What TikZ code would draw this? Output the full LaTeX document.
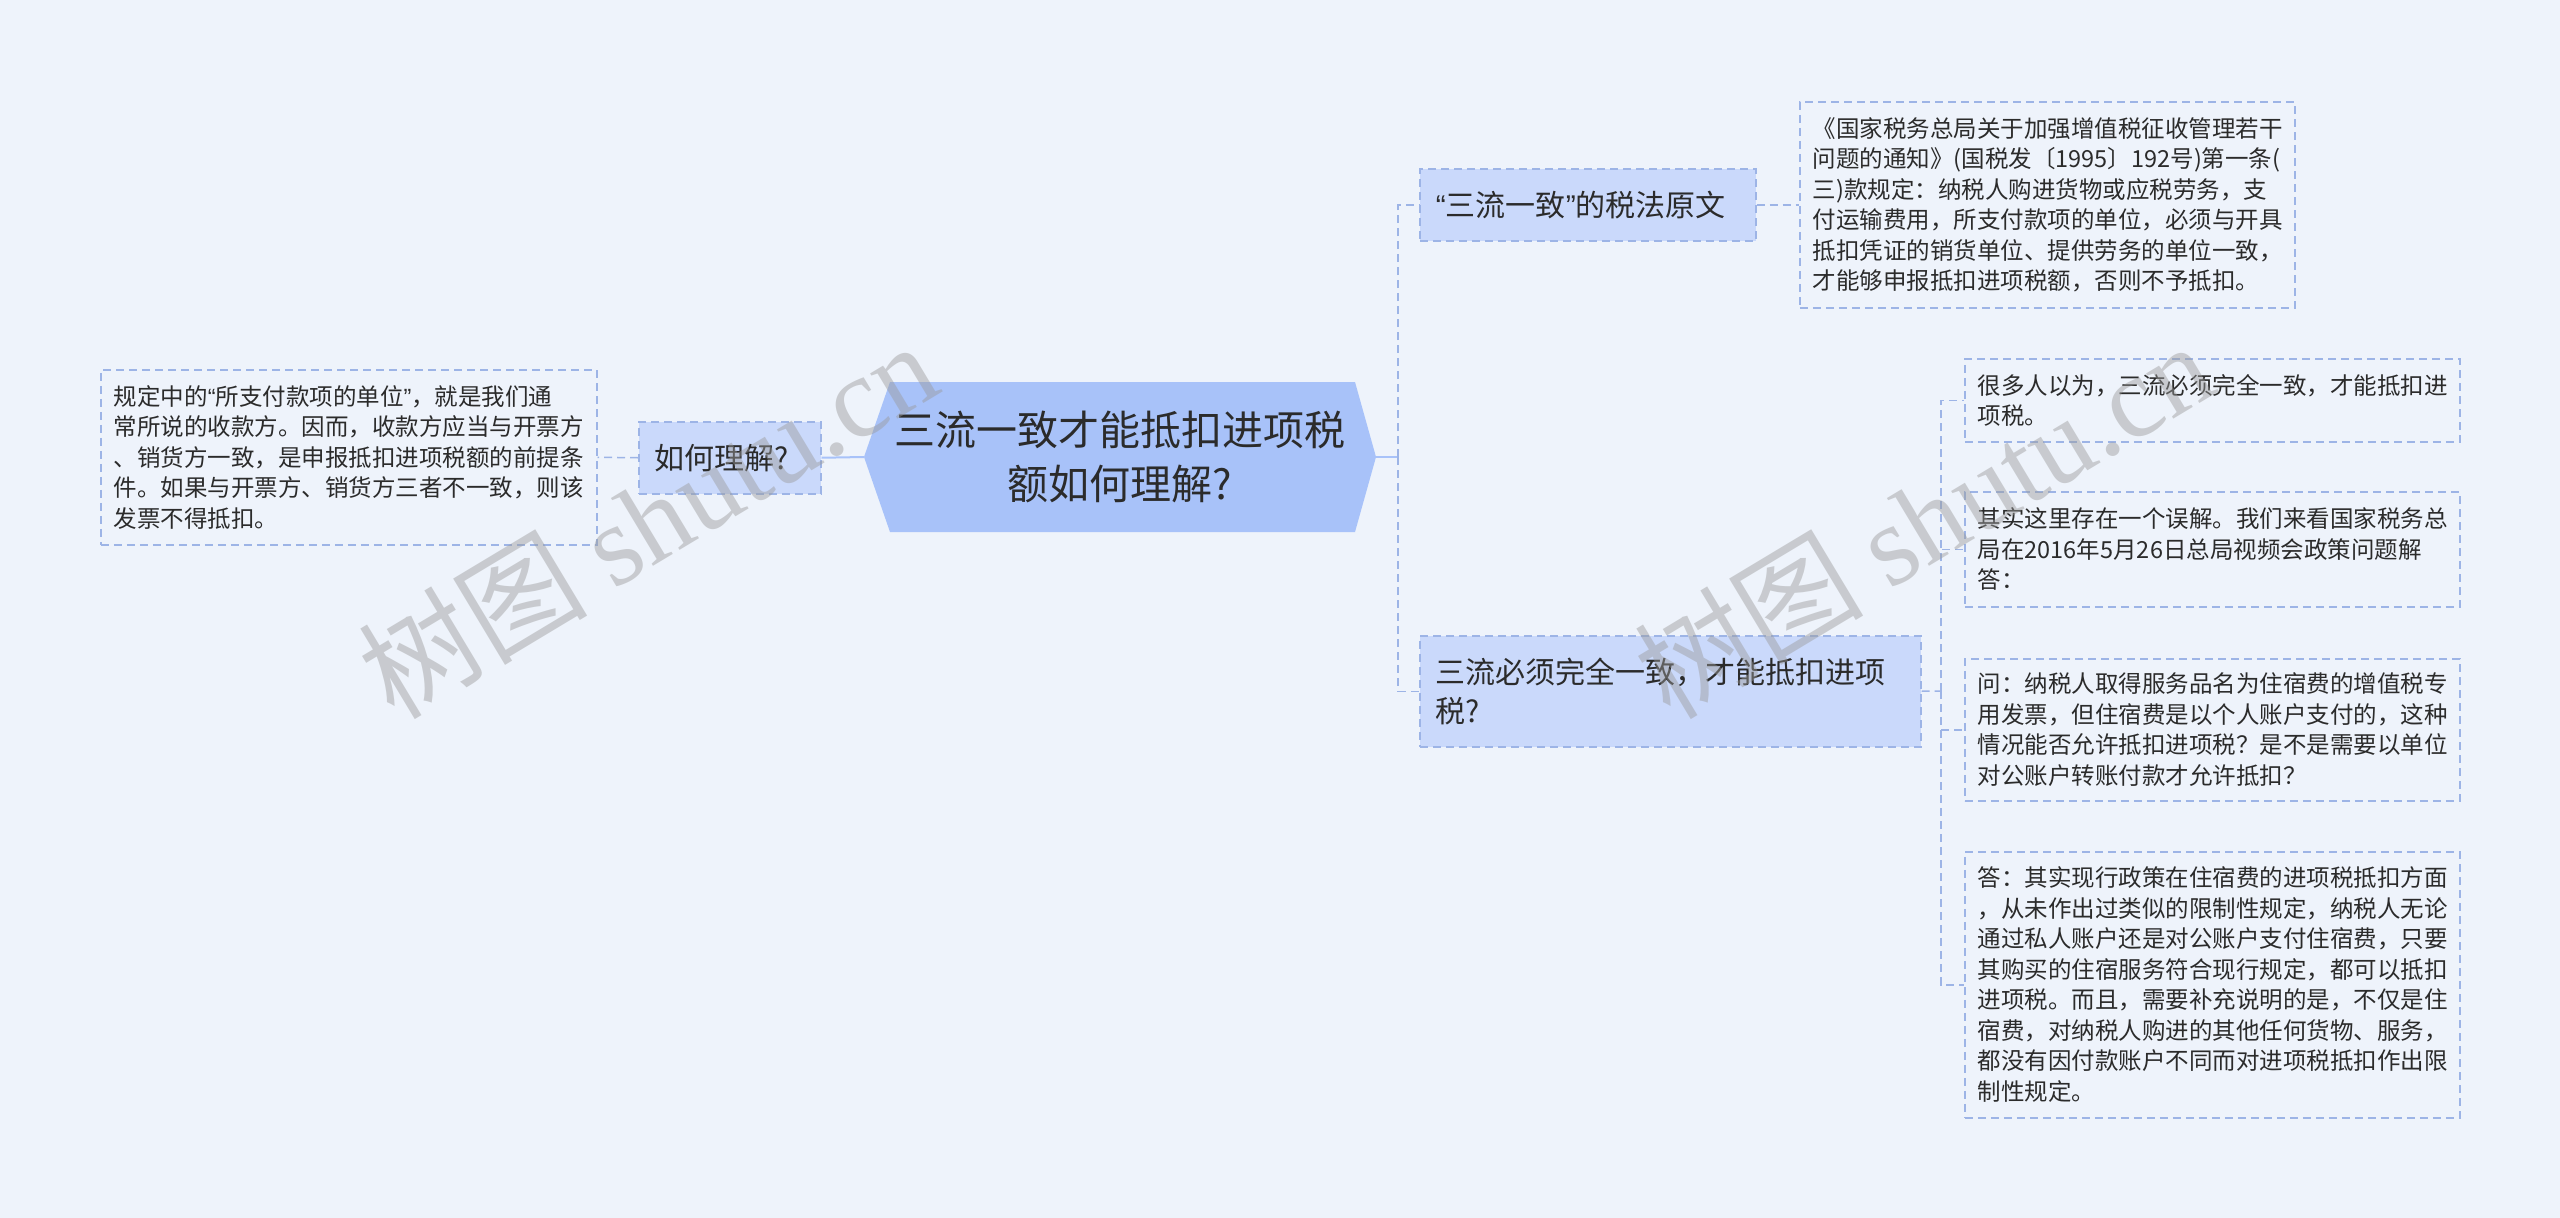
\documentclass[tikz,border=0pt]{standalone}
\usepackage{fontspec}
\setmainfont{Noto Sans CJK SC}
\newfontfamily\wmlatin{Liberation Serif}
\newfontfamily\qfont{Liberation Sans}
\newcommand\myoq{{\qfont “}}
\newcommand\mycq{{\qfont ”}}
\definecolor{bgc}{HTML}{EEF3FB}
\definecolor{linec}{HTML}{9DB4E6}
\definecolor{subfill}{HTML}{CAD9FB}
\definecolor{rootfill}{HTML}{A8C2F9}
\definecolor{txt}{HTML}{2B2B2B}
\definecolor{wmc}{HTML}{9A9A9A}
\begin{document}
\begin{tikzpicture}[x=1pt,y=-1pt,
  dashline/.style={draw=linec, line width=1.5pt, dash pattern=on 8pt off 5pt},
  solidline/.style={draw=rootfill, line width=2pt},
  leaf/.style={dashline, align=left, anchor=north west, inner xsep=13pt, inner ysep=0pt,
    text=txt, font=\fontsize{23.5}{30.5}\selectfont},
  sub/.style={dashline, fill=subfill, align=left, anchor=north west, inner xsep=16pt, inner ysep=0pt,
    text=txt, font=\fontsize{30}{39}\selectfont},
  rootnode/.style={align=center, inner sep=0pt, text=txt, font=\fontsize{41}{54}\selectfont,
    minimum width=512pt, minimum height=150pt},
  wm/.style={text=wmc, text opacity=0.45, rotate=31, inner sep=0pt}
]
\fill[bgc] (0,0) rectangle (2560,1218);
\useasboundingbox (0,0) rectangle (2560,1218);

% root hexagon
\fill[rootfill] (864,457) -- (890,382) -- (1355,382) -- (1376,457) -- (1355,532) -- (890,532) -- cycle;
\node[rootnode] (root) at (1120,457) {三流一致才能抵扣进项税\\额如何理解?};

% left branch
\node[sub, text width=150pt, minimum height=72pt] (how) at (638,421) {如何理解?};
\node[leaf, text width=470pt, minimum height=175pt] (howtxt) at (100,369) {规定中的\myoq 所支付款项的单位\mycq ，就是我们通\\常所说的收款方。因而，收款方应当与开票方\\、销货方一致，是申报抵扣进项税额的前提条\\件。如果与开票方、销货方三者不一致，则该\\发票不得抵扣。};

% right branches
\node[sub, text width=304pt, minimum height=72pt] (law) at (1419,168) {\myoq 三流一致\mycq 的税法原文};
\node[leaf, text width=469pt, minimum height=206pt] (lawtxt) at (1799,101) {《国家税务总局关于加强增值税征收管理若干\\问题的通知》(国税发〔1995〕192号)第一条(\\三)款规定：纳税人购进货物或应税劳务，支\\付运输费用，所支付款项的单位，必须与开具\\抵扣凭证的销货单位、提供劳务的单位一致，\\才能够申报抵扣进项税额，否则不予抵扣。};

\node[sub, text width=469pt, minimum height=111pt] (must) at (1419,635) {三流必须完全一致，才能抵扣进项\\税?};

\node[leaf, text width=469pt, minimum height=83pt] (r1) at (1964,358) {很多人以为，三流必须完全一致，才能抵扣进\\项税。};
\node[leaf, text width=469pt, minimum height=115pt] (r2) at (1964,491) {其实这里存在一个误解。我们来看国家税务总\\局在2016年5月26日总局视频会政策问题解\\答：};
\node[leaf, text width=469pt, minimum height=142pt] (r3) at (1964,658) {问：纳税人取得服务品名为住宿费的增值税专\\用发票，但住宿费是以个人账户支付的，这种\\情况能否允许抵扣进项税？是不是需要以单位\\对公账户转账付款才允许抵扣？};
\node[leaf, text width=469pt, minimum height=266pt] (r4) at (1964,851) {答：其实现行政策在住宿费的进项税抵扣方面\\，从未作出过类似的限制性规定，纳税人无论\\通过私人账户还是对公账户支付住宿费，只要\\其购买的住宿服务符合现行规定，都可以抵扣\\进项税。而且，需要补充说明的是，不仅是住\\宿费，对纳税人购进的其他任何货物、服务，\\都没有因付款账户不同而对进项税抵扣作出限\\制性规定。};

% connectors
\coordinate (j1) at (1398,457);
\coordinate (j2) at (1941,691);
\draw[solidline] (root.west) -- (how.east);
\draw[dashline] (how.west) -- (howtxt.east);
\draw[solidline] (root.east) -- (j1);
\draw[dashline] (j1) |- (law.west);
\draw[dashline] (j1) |- (must.west);
\draw[dashline] (law.east) -- (lawtxt.west);
\draw[dashline] (must.east) -- (j2);
\draw[dashline] (j2) |- (r1.west);
\draw[dashline] (j2) |- (r2.west);
\draw[dashline] (j2) |- (r3.west);
\draw[dashline] (j2) |- (r4.west);

% watermarks
\node[wm] (wm1) at (647,519) {\fontsize{115}{115}\selectfont 树图 \wmlatin shutu.cn};
\node[wm] (wm2) at (1923,519) {\fontsize{115}{115}\selectfont 树图 \wmlatin shutu.cn};
\end{tikzpicture}
\end{document}
